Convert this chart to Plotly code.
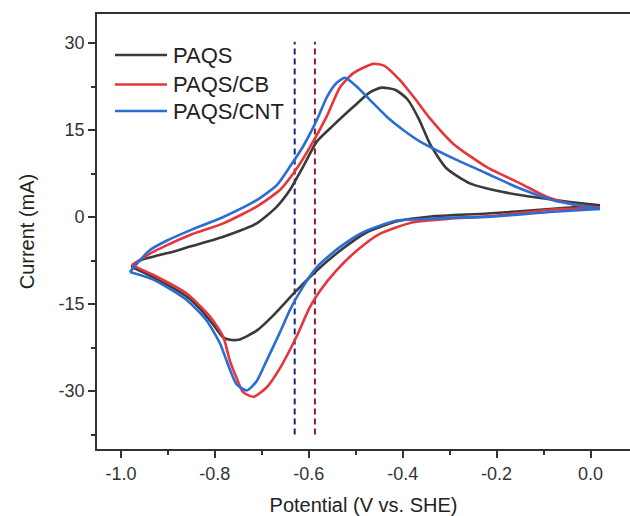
import plotly.graph_objects as go

# ---------------- data ----------------
series_names = ["PAQS", "PAQS/CB", "PAQS/CNT"]
series_colors = ["#3a3a3a", "#e8353a", "#2a6ed4"]

# PAQS (black)
paqs_lower_v = [0.02, -0.08, -0.22, -0.34, -0.41, -0.48, -0.53, -0.58, -0.63, -0.676, -0.711,
                -0.747, -0.765, -0.782, -0.804, -0.832, -0.86, -0.931, -0.978]
paqs_lower_i = [2.0, 1.4, 0.6, 0.1, -0.7, -2.8, -5.6, -9.0, -13.0, -17.0, -19.6,
                -21.1, -21.2, -20.8, -18.5, -15.8, -13.7, -10.4, -8.6]
paqs_upper_v = [-0.978, -0.96, -0.92, -0.881, -0.853, -0.782, -0.711, -0.668, -0.64, -0.612,
                -0.583, -0.548, -0.505, -0.47, -0.445, -0.415, -0.39, -0.365, -0.342, -0.307,
                -0.257, -0.186, -0.115, -0.044, 0.02]
paqs_upper_i = [-8.6, -7.5, -6.6, -5.8, -5.1, -3.4, -1.1, 1.8, 4.7, 8.7,
                13.0, 15.8, 19.0, 21.5, 22.3, 21.9, 20.3, 16.8, 12.6, 8.4,
                5.8, 4.3, 3.35, 2.6, 2.0]

# PAQS/CB (red)
cb_lower_v = [0.02, -0.08, -0.22, -0.30, -0.378, -0.449, -0.498, -0.541, -0.576, -0.598, -0.626,
              -0.661, -0.69, -0.718, -0.74, -0.755, -0.768, -0.782, -0.81, -0.86, -0.931, -0.977]
cb_lower_i = [1.6, 1.3, 0.1, -0.3, -0.9, -2.9, -5.8, -9.2, -12.7, -15.6, -20.6,
              -26.0, -29.4, -31.0, -30.2, -27.5, -24.8, -20.7, -17.2, -13.2, -10.0, -8.3]
cb_upper_v = [-0.977, -0.94, -0.903, -0.853, -0.782, -0.711, -0.661, -0.633, -0.605, -0.562,
              -0.534, -0.505, -0.463, -0.44, -0.406, -0.37, -0.342, -0.292, -0.221, -0.15,
              -0.094, -0.044, 0.02]
cb_upper_i = [-8.3, -6.4, -4.9, -3.1, -1.1, 1.8, 4.7, 7.5, 11.0, 17.3,
              22.3, 24.8, 26.4, 26.1, 23.6, 20.0, 17.0, 12.6, 8.6, 5.8,
              3.5, 2.3, 1.6]

# PAQS/CNT (blue)
cnt_lower_v = [0.02, -0.08, -0.221, -0.30, -0.364, -0.413, -0.484, -0.534, -0.583, -0.619, -0.64,
               -0.661, -0.69, -0.711, -0.732, -0.754, -0.775, -0.789, -0.818, -0.86, -0.931, -0.981]
cnt_lower_i = [1.4, 0.9, 0.0, -0.1, -0.4, -0.6, -2.6, -5.2, -8.65, -12.9, -16.0,
               -19.8, -24.8, -28.3, -29.9, -28.8, -24.8, -21.8, -17.8, -14.3, -10.8, -9.5]
cnt_upper_v = [-0.981, -0.94, -0.903, -0.853, -0.782, -0.711, -0.668, -0.64, -0.612, -0.583,
               -0.562, -0.541, -0.523, -0.498, -0.47, -0.434, -0.399, -0.363, -0.292, -0.221,
               -0.15, -0.08, 0.02]
cnt_upper_i = [-9.5, -5.8, -4.1, -2.3, 0.0, 2.9, 5.5, 8.7, 12.2, 16.7,
               20.6, 23.1, 24.0, 22.5, 20.2, 17.3, 15.0, 13.0, 10.1, 7.5,
               4.9, 2.9, 1.4]

# vertical reference lines
ref_potentials = [-0.63, -0.587]
ref_colors = ["#1c2580", "#8a1c2c"]
ref_current_span = [-37.5, 30.2]

x_ticks = [-1.0, -0.8, -0.6, -0.4, -0.2, 0.0]
x_tick_labels = ["-1.0", "-0.8", "-0.6", "-0.4", "-0.2", "0.0"]
y_ticks = [-30, -15, 0, 15, 30]
y_tick_labels = ["-30", "-15", "0", "15", "30"]

# ---------------- figure ----------------
fig = go.Figure()

for v, c in zip(ref_potentials, ref_colors):
    fig.add_trace(go.Scatter(x=[v, v], y=ref_current_span, mode="lines",
                             line=dict(color=c, width=2, dash="6px,4px"),
                             showlegend=False, hoverinfo="skip"))

branches = [
    (paqs_lower_v, paqs_lower_i, paqs_upper_v, paqs_upper_i),
    (cb_lower_v, cb_lower_i, cb_upper_v, cb_upper_i),
    (cnt_lower_v, cnt_lower_i, cnt_upper_v, cnt_upper_i),
]

for k, (lv, li, uv, ui) in enumerate(branches):
    name = series_names[k]
    col = series_colors[k]
    for vv, ii in ((lv, li), (uv, ui)):
        fig.add_trace(go.Scatter(x=vv, y=ii, mode="lines", name=name, legendgroup=name,
                                 line=dict(color=col, width=2.6, shape="spline", smoothing=0.6),
                                 showlegend=False))

# legend drawn as line samples + labels (paper coordinates)
leg_x0, leg_x1, leg_tx = 0.0338, 0.1313, 0.1388
leg_rows = [0.9057, 0.838, 0.777]
for name, col, yy in zip(series_names, series_colors, leg_rows):
    fig.add_shape(type="line", xref="paper", yref="paper", x0=leg_x0, x1=leg_x1, y0=yy, y1=yy,
                  line=dict(color=col, width=2.6))
    fig.add_annotation(xref="paper", yref="paper", x=leg_tx, y=yy, text=name, showarrow=False,
                       xanchor="left", yanchor="middle",
                       font=dict(family="Liberation Sans, Arial, sans-serif", size=22, color="#222222"))

axis_font = dict(family="Liberation Sans, Arial, sans-serif", size=18, color="#333333")
title_font = dict(family="Liberation Sans, Arial, sans-serif", size=20, color="#222222")

fig.update_layout(
    width=630, height=516,
    margin=dict(l=97, r=0, t=14, b=67),
    paper_bgcolor="white", plot_bgcolor="white",
    showlegend=False,
    xaxis=dict(range=[-1.051, 0.084], tickvals=x_ticks, ticktext=x_tick_labels,
               showline=True, linecolor="#333333", linewidth=1.8, mirror=True,
               ticks="outside", ticklen=7, tickwidth=1.5, tickcolor="#333333",
               minor=dict(dtick=0.1, tick0=0, ticks="outside", ticklen=4, tickwidth=1.5, tickcolor="#333333"),
               showgrid=False, zeroline=False, tickfont=axis_font,
               title=dict(text="Potential (V vs. SHE)", font=title_font, standoff=15)),
    yaxis=dict(range=[-40, 35], tickvals=y_ticks, ticktext=y_tick_labels,
               showline=True, linecolor="#333333", linewidth=1.8, mirror=False,
               ticks="outside", ticklen=7, tickwidth=1.5, tickcolor="#333333",
               minor=dict(dtick=7.5, tick0=0, ticks="outside", ticklen=4, tickwidth=1.5, tickcolor="#333333"),
               showgrid=False, zeroline=False, tickfont=axis_font,
               title=dict(text="Current (mA)", font=title_font, standoff=18)),
)

fig.write_html("out.html")
